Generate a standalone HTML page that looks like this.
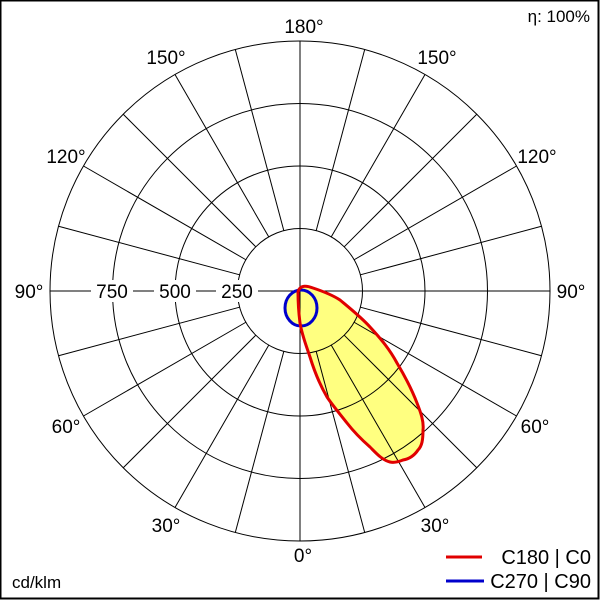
<!DOCTYPE html>
<html><head><style>
body{margin:0;background:#fff}
svg{display:block;font-family:"Liberation Sans",sans-serif}
</style></head><body>
<svg width="600" height="600" viewBox="0 0 600 600">
<rect x="0" y="0" width="600" height="600" fill="#fff"/>
<g transform="translate(300,291)" stroke="#000" stroke-width="1" fill="none">
<circle r="62.5"/><circle r="125"/><circle r="187.5"/><circle r="250"/>
<line x1="0" y1="-250" x2="0" y2="250"/>
<line x1="-250" y1="0" x2="250" y2="0"/>
<g>
<line x1="0" y1="62.5" x2="0" y2="250" transform="rotate(15)"/>
<line x1="0" y1="62.5" x2="0" y2="250" transform="rotate(30)"/>
<line x1="0" y1="62.5" x2="0" y2="250" transform="rotate(45)"/>
<line x1="0" y1="62.5" x2="0" y2="250" transform="rotate(60)"/>
<line x1="0" y1="62.5" x2="0" y2="250" transform="rotate(75)"/>
<line x1="0" y1="62.5" x2="0" y2="250" transform="rotate(105)"/>
<line x1="0" y1="62.5" x2="0" y2="250" transform="rotate(120)"/>
<line x1="0" y1="62.5" x2="0" y2="250" transform="rotate(135)"/>
<line x1="0" y1="62.5" x2="0" y2="250" transform="rotate(150)"/>
<line x1="0" y1="62.5" x2="0" y2="250" transform="rotate(165)"/>
<line x1="0" y1="62.5" x2="0" y2="250" transform="rotate(195)"/>
<line x1="0" y1="62.5" x2="0" y2="250" transform="rotate(210)"/>
<line x1="0" y1="62.5" x2="0" y2="250" transform="rotate(225)"/>
<line x1="0" y1="62.5" x2="0" y2="250" transform="rotate(240)"/>
<line x1="0" y1="62.5" x2="0" y2="250" transform="rotate(255)"/>
<line x1="0" y1="62.5" x2="0" y2="250" transform="rotate(285)"/>
<line x1="0" y1="62.5" x2="0" y2="250" transform="rotate(300)"/>
<line x1="0" y1="62.5" x2="0" y2="250" transform="rotate(315)"/>
<line x1="0" y1="62.5" x2="0" y2="250" transform="rotate(330)"/>
<line x1="0" y1="62.5" x2="0" y2="250" transform="rotate(345)"/>
</g>
</g>
<defs><clipPath id="c2"><path transform="translate(-300,-291)" d="M298,292 C300,284 308,286 313,288 C325,292 334,296 340,300 C352,310 362,318 370,327 C382,340 390,350 397,363 C406,378 412,390 417,403 C421,413 424,422 423,430 C423,440 422,446 418,450 C414,456 409,459 403,460 C398,462 394,463 390,462 C382,460 376,453 370,447 C362,440 354,432 347,423 C340,414 333,406 327,397 C320,385 314,370 310,357 C306,345 302,335 300,323 C299,315 298,305 298,292 Z"/></clipPath></defs>
<ellipse cx="301" cy="308" rx="16" ry="18" fill="#ffff80" stroke="none"/>
<path d="M298,292 C300,284 308,286 313,288 C325,292 334,296 340,300 C352,310 362,318 370,327 C382,340 390,350 397,363 C406,378 412,390 417,403 C421,413 424,422 423,430 C423,440 422,446 418,450 C414,456 409,459 403,460 C398,462 394,463 390,462 C382,460 376,453 370,447 C362,440 354,432 347,423 C340,414 333,406 327,397 C320,385 314,370 310,357 C306,345 302,335 300,323 C299,315 298,305 298,292 Z" fill="#ffff80" stroke="none"/>
<g transform="translate(300,291)" stroke="#000" stroke-width="1" fill="none" clip-path="url(#c2)">
<circle r="62.5"/><circle r="125"/><circle r="187.5"/>
<line x1="0" y1="62.5" x2="0" y2="250" transform="rotate(-15)"/>
<line x1="0" y1="62.5" x2="0" y2="250" transform="rotate(-30)"/>
<line x1="0" y1="62.5" x2="0" y2="250" transform="rotate(-45)"/>
<line x1="0" y1="62.5" x2="0" y2="250" transform="rotate(-60)"/>
</g>
<line x1="300" y1="291" x2="300" y2="341" stroke="#000"/>
<ellipse cx="301" cy="308" rx="16" ry="18" fill="none" stroke="#0000cc" stroke-width="3"/>
<path d="M298,292 C300,284 308,286 313,288 C325,292 334,296 340,300 C352,310 362,318 370,327 C382,340 390,350 397,363 C406,378 412,390 417,403 C421,413 424,422 423,430 C423,440 422,446 418,450 C414,456 409,459 403,460 C398,462 394,463 390,462 C382,460 376,453 370,447 C362,440 354,432 347,423 C340,414 333,406 327,397 C320,385 314,370 310,357 C306,345 302,335 300,323 C299,315 298,305 298,292 Z" fill="none" stroke="#e00000" stroke-width="3"/>
<g font-size="19" text-anchor="middle" fill="#000">
<rect x="91" y="280" width="42" height="22" fill="#fff"/>
<rect x="154" y="280" width="42" height="22" fill="#fff"/>
<rect x="216" y="280" width="42" height="22" fill="#fff"/>
<text x="112" y="298">750</text>
<text x="175" y="298">500</text>
<text x="237" y="298">250</text>
<text x="29" y="298">90°</text>
<text x="571" y="298">90°</text>
<text x="304" y="33">180°</text>
<text x="303" y="562">0°</text>
<text x="166" y="64">150°</text>
<text x="437" y="64">150°</text>
<text x="66" y="163">120°</text>
<text x="537" y="163">120°</text>
<text x="66" y="433">60°</text>
<text x="535" y="433">60°</text>
<text x="166" y="532">30°</text>
<text x="435" y="532">30°</text>
</g>
<text x="590" y="22" font-size="17" text-anchor="end">η: 100%</text>
<text x="12" y="588" font-size="17">cd/klm</text>
<line x1="446" y1="557" x2="482" y2="557" stroke="#e00000" stroke-width="3"/>
<line x1="446" y1="581" x2="484" y2="581" stroke="#0000cc" stroke-width="3"/>
<text x="591" y="564" font-size="20" text-anchor="end">C180 | C0</text>
<text x="591" y="588" font-size="20" text-anchor="end">C270 | C90</text>
<rect x="0.5" y="0.5" width="598" height="598" fill="none" stroke="#000" stroke-width="2"/>
</svg>
</body></html>
